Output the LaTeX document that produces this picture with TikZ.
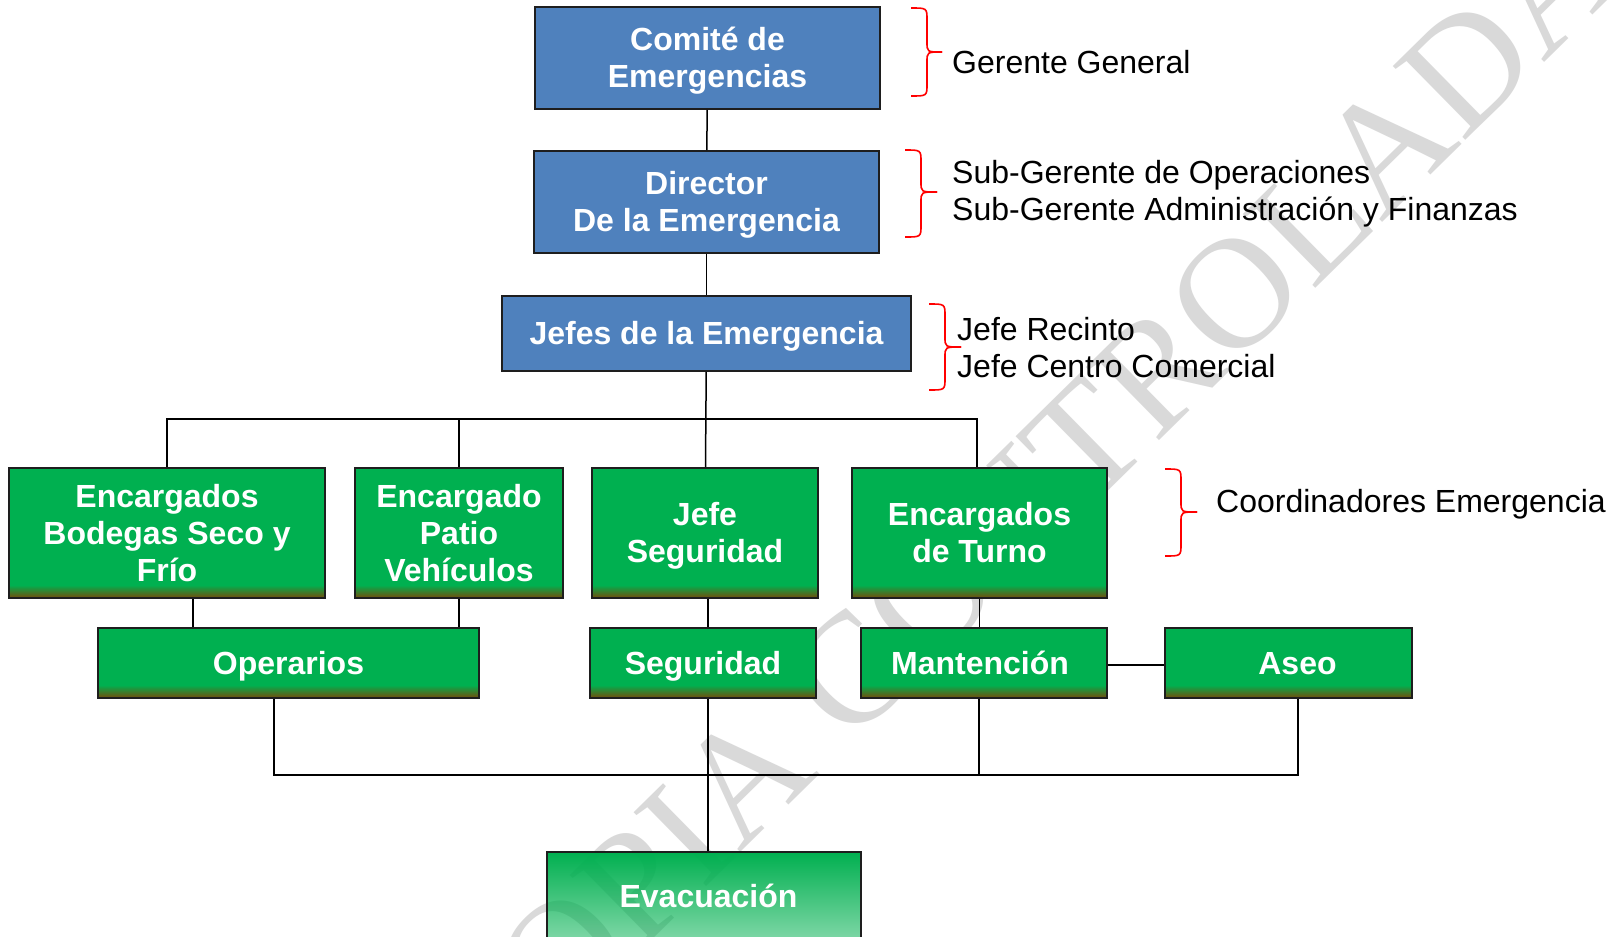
\documentclass[tikz,border=0pt]{standalone}
\usepackage{fontspec}
\setmainfont{Liberation Sans}
\newfontfamily\wmfont{Liberation Serif}
\usetikzlibrary{fadings}
\definecolor{bluefill}{HTML}{4F81BD}
\definecolor{ggreen}{HTML}{00B050}
\definecolor{gbrown}{RGB}{108,82,14}
\definecolor{boxline}{RGB}{30,30,30}
\definecolor{wmgray}{RGB}{217,217,217}
\definecolor{bracered}{RGB}{255,0,0}
\tikzfading[name=evfade, top color=transparent!0, bottom color=transparent!50]
\newcommand{\tstr}{\rule{0pt}{29pt}}
\newcommand{\bstr}{\rule[-6.8pt]{0pt}{6.8pt}}
\begin{document}
\begin{tikzpicture}[x=1pt,y=-1pt,
  boxtext/.style={text=white, font=\fontsize{32}{37}\selectfont\bfseries, align=center, inner sep=0pt},
  bluebox/.style={boxtext, draw=boxline, line width=1.6pt, fill=bluefill},
  greenbox/.style={boxtext, draw=boxline, line width=1.6pt, fill=ggreen,
    path picture={\foreach \i in {0,...,11}{\pgfmathtruncatemacro{\pct}{100-8.3*\i}
      \fill[gbrown!\pct!ggreen] ([yshift=\i pt]path picture bounding box.south west)
        rectangle ([yshift=\i pt+1.2pt]path picture bounding box.south east);}}},
  evbox/.style={boxtext, draw=boxline, line width=1.6pt, preaction={fill=ggreen, path fading=evfade}},
  conn/.style={draw=black, line width=1.5pt},
  bracepath/.style={draw=bracered, line width=1.6pt},
  sidetext/.style={font=\fontsize{32}{37}\selectfont, anchor=base west, inner sep=0pt, text=black},
  wm/.style={text=wmgray, font=\wmfont\fontsize{158}{158}\selectfont, inner sep=0pt}
]
\useasboundingbox (0,0) rectangle (1610,937);
\fill[white] (0,0) rectangle (1610,937);

% watermark
\node[wm, rotate=44.5, anchor=center] (wmark) at (1018,508) {COPIA CONTROLADA};

% blue boxes
\node[bluebox, minimum width=345pt, minimum height=102pt] (comite) at (707.5,58) {\tstr Comité de\\Emergencias\bstr};
\node[bluebox, minimum width=345pt, minimum height=102pt] (director) at (706.5,202) {\tstr Director\\De la Emergencia\bstr};
\node[bluebox, minimum width=409pt, minimum height=75pt] (jefes) at (706.5,333.5) {\tstr Jefes de la Emergencia\bstr};

% green boxes, upper row
\node[greenbox, minimum width=316pt, minimum height=130pt] (bodegas) at (167,533) {\tstr Encargados\\Bodegas Seco y\\Frío\bstr};
\node[greenbox, minimum width=208pt, minimum height=130pt] (patio) at (459,533) {\tstr Encargado\\Patio\\Vehículos\bstr};
\node[greenbox, minimum width=226pt, minimum height=130pt] (jefeseg) at (705,533) {\tstr Jefe\\Seguridad\bstr};
\node[greenbox, minimum width=255pt, minimum height=130pt] (turno) at (979.5,533) {\tstr Encargados\\de Turno\bstr};

% green boxes, lower row
\node[greenbox, minimum width=381pt, minimum height=70pt] (operarios) at (288.5,663) {\tstr Operarios\bstr};
\node[greenbox, minimum width=226pt, minimum height=70pt] (seguridad) at (703,663) {\tstr Seguridad\bstr};
\node[greenbox, minimum width=246pt, minimum height=70pt] (mantencion) at (984,663) {\tstr Mantención\bstr\hspace*{8pt}};
\node[greenbox, minimum width=247pt, minimum height=70pt] (aseo) at (1288.5,663) {\hspace*{18pt}\tstr Aseo\bstr};

% evacuation
\node[evbox, minimum width=314pt, minimum height=88pt] (evac) at (704,896) {\hspace*{9pt}\tstr Evacuación\bstr};

% connectors
\draw[conn] (comite) -- (director);
\draw[conn] (director) -- (jefes);
\draw[conn] (jefes) -- (jefeseg);
\coordinate (busA) at (0,419);
\coordinate (turnoU) at ([xshift=-2.5pt]turno.north);
\draw[conn] (bodegas.north) |- (busA -| turnoU) -- (turnoU);
\draw[conn] (patio.north) -- (patio.north |- busA);
\coordinate (bodD) at ([xshift=26pt]bodegas.south);
\draw[conn] (bodD) -- (bodD |- operarios.north);
\draw[conn] (patio.south) -- (patio.south |- operarios.north);
\coordinate (jsD) at ([xshift=3pt]jefeseg.south);
\draw[conn] (jsD) -- (jsD |- seguridad.north);
\draw[conn] (turno.south) -- (turno.south |- mantencion.north);
\coordinate (manE) at ([yshift=-2pt]mantencion.east);
\draw[conn] (manE) -- (manE -| aseo.west);
\coordinate (busB) at (0,775);
\coordinate (opD) at ([xshift=-14.5pt]operarios.south);
\coordinate (aseoD) at ([xshift=9.5pt]aseo.south);
\coordinate (manD) at ([xshift=-5pt]mantencion.south);
\coordinate (segD) at ([xshift=5pt]seguridad.south);
\draw[conn] (opD) |- (aseoD |- busB) -- (aseoD);
\draw[conn] (manD) -- (manD |- busB);
\draw[conn] (segD) -- (segD |- evac.north);

% braces
\draw[bracepath] (911,8) .. controls (927,8) .. (927,20) -- (927,42) .. controls (927,52) .. (942,52);
\draw[bracepath] (942,52) .. controls (927,52) .. (927,62) -- (927,84) .. controls (927,96) .. (911,96);
\draw[bracepath] (905,150) .. controls (921,150) .. (921,162) -- (921,182) .. controls (921,192) .. (937,192);
\draw[bracepath] (937,192) .. controls (921,192) .. (921,202) -- (921,225) .. controls (921,237) .. (905,237);
\draw[bracepath] (929,304) .. controls (945,304) .. (945,316) -- (945,337) .. controls (945,347) .. (961,347);
\draw[bracepath] (961,347) .. controls (945,347) .. (945,357) -- (945,378) .. controls (945,390) .. (929,390);
\draw[bracepath] (1165,469) .. controls (1181,469) .. (1181,481) -- (1181,502) .. controls (1181,512) .. (1197,512);
\draw[bracepath] (1197,512) .. controls (1181,512) .. (1181,522) -- (1181,544) .. controls (1181,556) .. (1165,556);

% side texts
\node[sidetext] (gg) at (952,73) {Gerente General};
\node[sidetext] (sg1) at (952,183) {Sub-Gerente de Operaciones};
\node[sidetext] (sg2) at (952,220) {Sub-Gerente Administración y Finanzas};
\node[sidetext] (jr) at (957,340) {Jefe Recinto};
\node[sidetext] (jc) at (957,377) {Jefe Centro Comercial};
\node[sidetext] (ce) at (1216,512) {Coordinadores Emergencia};
\end{tikzpicture}
\end{document}
